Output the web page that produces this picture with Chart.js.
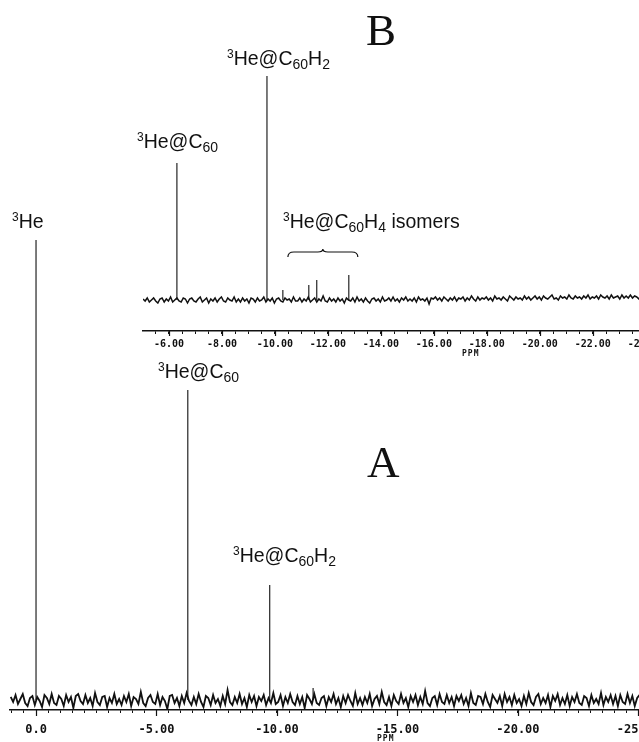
<!DOCTYPE html>
<html>
<head>
<meta charset="utf-8">
<script src="https://cdn.jsdelivr.net/npm/chart.js@4.4.1/dist/chart.umd.min.js"></script>
<style>
  html, body { margin: 0; padding: 0; background: #fff; }
  body { width: 639px; height: 742px; overflow: hidden; position: relative; }
  canvas { position: absolute; left: 0; top: 0; }
  .lbl { position: absolute; font: 19.5px "Liberation Sans", Arial, sans-serif; line-height: 19px;
         white-space: nowrap; color: #111; }
  .lbl sup { font-size: 12px; vertical-align: 7px; line-height: 0; }
  .lbl sub { font-size: 14px; vertical-align: -4px; line-height: 0; }
  .big { position: absolute; font: 45px "Liberation Serif", "Times New Roman", serif; line-height: 45px; color: #111; }
  .ppm { position: absolute; font: bold 8px "DejaVu Sans Mono", monospace; letter-spacing: 1px; color: #111; }
</style>
</head>
<body>
<canvas id="chart-a" width="672" height="742"></canvas>
<canvas id="chart-b" width="664" height="380"></canvas>

<div class="big" style="left:366px; top:8px">B</div>
<div class="lbl" style="left:227px; top:49px"><sup>3</sup>He@C<sub>60</sub>H<sub>2</sub></div>
<div class="lbl" style="left:137px; top:132px"><sup>3</sup>He@C<sub>60</sub></div>
<div class="lbl" style="left:12px; top:212px"><sup>3</sup>He</div>
<div class="lbl" style="left:283px; top:212px"><sup>3</sup>He@C<sub>60</sub>H<sub>4</sub> isomers</div>
<div class="lbl" style="left:158px; top:362px"><sup>3</sup>He@C<sub>60</sub></div>
<div class="big" style="left:367px; top:440px">A</div>
<div class="lbl" style="left:233px; top:546px"><sup>3</sup>He@C<sub>60</sub>H<sub>2</sub></div>
<div class="ppm" style="left:462px; top:349px">PPM</div>
<div class="ppm" style="left:377px; top:734px">PPM</div>

<script>
"use strict";

// ── Spectrum A (full range) ───────────────────────────────────────
const PEAK_PPM_A    = [0.0, -6.3, -9.7, -11.5];
const PEAK_HEIGHT_A = [460, 310, 115, 12];
const TICKS_A       = [0, -5, -10, -15, -20, -25];
const TICK_LABELS_A = ["0.0", "-5.00", "-10.00", "-15.00", "-20.00", "-25.00"];
const NOISE_START_A = 1.05;    // ppm of first baseline sample
const NOISE_STEP_A  = 0.1;
const NOISE_A = [
  3,-2,5,-4,1,6,-3,-6,2,4,-5,3,-1,-7,5,2,-4,6,-3,-5,4,1,-6,
  5,-2,3,-8,4,6,-1,-4,5,-3,2,-6,7,-2,-5,3,4,-7,2,-3,6,-4,1,
  -5,4,-2,6,-6,3,1,-4,8,-3,-6,2,5,-2,-4,6,-5,3,-1,-9,4,5,-3,
  2,-6,4,-3,7,-1,-5,3,-4,6,-2,-7,4,2,-5,5,-3,1,-6,4,-4,10,-2,
  -5,3,-3,6,-4,2,-7,5,-2,4,-6,3,-1,5,-5,2,-3,7,-4,-2,5,-6,3,
  -3,6,-2,-5,4,-4,3,-8,5,1,-4,6,-3,-5,2,4,-6,3,-2,6,-4,2,-7,
  4,-3,5,-1,-6,7,-4,2,-5,3,-3,6,-6,1,4,-4,8,-2,-5,3,-6,5,-1,
  -4,6,-3,2,-7,4,-2,5,-5,3,-4,9,-3,-6,2,4,-5,6,-2,-4,5,-3,3,
  -6,4,-1,5,-4,2,-6,7,-3,-5,4,3,-4,6,-2,-7,5,1,-3,4,-6,6,-2,
  3,-5,5,-3,1,-6,4,-4,7,-2,-5,3,6,-4,2,-3,5,-7,4,-1,6,-5,2,
  -4,5,-6,3,-2,6,-3,-5,4,2,-6,5,-3,1,-4,7,-5,3,-2,5,-4,4,-6,
  5,-2,-4,6,-3,4,-6,2,5,-5,3,-2,6,-4,1,-5,4,-3,6,-6,2,4,-3
];

// ── Spectrum B (inset) ────────────────────────────────────────────
const PEAK_PPM_B    = [-6.3, -9.7, -10.3, -11.28, -11.58, -12.79];
const PEAK_HEIGHT_B = [137, 224, 10, 15, 20, 25];
const TICKS_B       = [-6, -8, -10, -12, -14, -16, -18, -20, -22, -24];
const TICK_LABELS_B = ["-6.00", "-8.00", "-10.00", "-12.00", "-14.00", "-16.00", "-18.00", "-20.00", "-22.00", "-24.00"];
const NOISE_START_B = -5.02;
const NOISE_STEP_B  = 0.08;
const NOISE_B = [
  1,-1,2,-2,0,2,-1,-3,1,2,-2,1,-1,3,-2,0,2,-1,-2,2,1,-3,1,
  2,-1,-2,1,3,-2,0,2,-3,1,-1,2,-2,1,3,-1,-2,2,0,-1,3,-2,1,
  -2,2,-1,1,-3,2,1,-2,2,-1,0,3,-2,1,-1,2,-3,1,2,-1,-2,2,0,
  1,-2,3,-1,-1,2,-2,1,-1,3,-2,0,2,-2,1,-1,4,-1,-2,2,-1,1,-2,
  2,-1,1,-3,2,0,-1,2,-2,3,-1,1,-2,2,-1,-3,1,2,-1,1,-2,3,-1,
  0,2,-1,3,-1,1,-2,2,0,3,-1,1,-1,2,-2,3,0,1,-1,2,-4,2,1,
  3,0,2,-1,3,1,-1,2,0,3,-1,2,1,3,-1,2,0,4,1,-1,3,0,2,
  1,3,0,2,-1,4,1,2,0,3,1,-1,4,2,0,3,1,2,0,4,1,3,0,
  2,4,1,3,0,4,2,1,3,5,1,2,0,4,2,3,1,5,2,1,4,2,3,
  1,4,2,5,1,3,2,4,1,5,3,2,4,1,5,2,3,4,1,5,2,4,2,
  5,2,4,3,1,5,3,2,4,6,2,3,5,2,4,3,5,2,4,1,5,3,4
];

const INK = "#111";

// ── Helpers ───────────────────────────────────────────────────────
const $ = id => document.getElementById(id);

const baseline = (start, step, noise) => noise.map((v, i) => ({ x: start - i * step, y: v }));

// each peak is a vertical stick from the baseline; null breaks the line between sticks
function sticks(peakPpm, peakHeight) {
  const pts = [];
  peakPpm.forEach((p, i) => {
    pts.push({ x: p, y: 0 }, { x: p, y: peakHeight[i] }, { x: p, y: null });
  });
  return pts;
}

function tickLabel(majors, labels) {
  return v => {
    const i = majors.findIndex(m => Math.abs(m - v) < 1e-6);
    return i >= 0 ? labels[i] : "";
  };
}

// longer marks for the labelled ticks
const majorTicks = {
  id: "majorTicks",
  afterDraw(chart, args, opts) {
    const sc = chart.scales.x, ctx = chart.ctx;
    ctx.save();
    ctx.strokeStyle = INK;
    ctx.lineWidth = 1.2;
    opts.values.forEach(v => {
      if (v < sc.min || v > sc.max) return;
      const px = Math.round(sc.getPixelForValue(v)) + 0.5;
      ctx.beginPath();
      ctx.moveTo(px, sc.top);
      ctx.lineTo(px, sc.top + opts.length);
      ctx.stroke();
    });
    ctx.restore();
  }
};

// curly brace over the isomer peaks (inset)
const isomerBrace = {
  id: "isomerBrace",
  afterDraw(chart, args, opts) {
    if (!opts.from) return;
    const { x, y } = chart.scales, ctx = chart.ctx;
    const x1 = x.getPixelForValue(opts.from), x2 = x.getPixelForValue(opts.to);
    const xm = (x1 + x2) / 2;
    const yEnd = y.getPixelForValue(opts.level - 5), yMid = y.getPixelForValue(opts.level), yTip = y.getPixelForValue(opts.level + 3);
    ctx.save();
    ctx.strokeStyle = INK;
    ctx.lineWidth = 1.2;
    ctx.beginPath();
    ctx.moveTo(x1, yEnd);
    ctx.quadraticCurveTo(x1, yMid, x1 + 6, yMid);
    ctx.lineTo(xm - 5, yMid);
    ctx.quadraticCurveTo(xm, yMid, xm, yTip);
    ctx.quadraticCurveTo(xm, yMid, xm + 5, yMid);
    ctx.lineTo(x2 - 6, yMid);
    ctx.quadraticCurveTo(x2, yMid, x2, yEnd);
    ctx.stroke();
    ctx.restore();
  }
};

function makeSpectrum(canvasId, cfg) {
  return new Chart($(canvasId), {
    type: "line",
    data: {
      datasets: [
        { data: cfg.noise, borderColor: INK, borderWidth: cfg.lineWidth, pointRadius: 0, tension: 0, fill: false },
        { data: cfg.peaks, borderColor: INK, borderWidth: 1.1, pointRadius: 0, tension: 0, fill: false, spanGaps: false }
      ]
    },
    options: {
      responsive: false,
      animation: false,
      devicePixelRatio: 1,
      layout: { padding: cfg.padding },
      plugins: {
        legend: { display: false },
        tooltip: { enabled: false },
        majorTicks: { values: cfg.majors, length: cfg.majorLen },
        isomerBrace: cfg.brace || {}
      },
      scales: {
        x: {
          type: "linear",
          reverse: true,
          min: cfg.xmin,
          max: cfg.xmax,
          afterFit: s => { s.height = cfg.axisHeight; },
          border: { display: true, color: INK, width: 1.4 },
          grid: { drawOnChartArea: false, drawTicks: true, tickLength: 3, tickColor: INK, lineWidth: 1 },
          ticks: {
            stepSize: 0.5,
            autoSkip: false,
            includeBounds: false,
            maxRotation: 0,
            padding: cfg.tickPad,
            color: INK,
            font: { family: "'DejaVu Sans Mono', monospace", size: cfg.fontSize, weight: "bold" },
            callback: tickLabel(cfg.majors, cfg.labels)
          }
        },
        y: { display: false, min: cfg.ymin, max: cfg.ymax }
      }
    },
    plugins: [majorTicks, isomerBrace]
  });
}

// ── Boot ──────────────────────────────────────────────────────────
makeSpectrum("chart-a", {
  noise: baseline(NOISE_START_A, NOISE_STEP_A, NOISE_A),
  peaks: sticks(PEAK_PPM_A, PEAK_HEIGHT_A),
  lineWidth: 1.8,
  padding: { left: 10, right: 24, top: 0, bottom: 0 },
  xmin: -25.4, xmax: 1.08,
  ymin: -10, ymax: 700,
  axisHeight: 32,
  majors: TICKS_A, labels: TICK_LABELS_A, majorLen: 6,
  fontSize: 12, tickPad: 10
});

makeSpectrum("chart-b", {
  noise: baseline(NOISE_START_B, NOISE_STEP_B, NOISE_B),
  peaks: sticks(PEAK_PPM_B, PEAK_HEIGHT_B),
  lineWidth: 1.5,
  padding: { left: 143, right: 5, top: 60, bottom: 0 },
  xmin: -24.5, xmax: -5.02,
  ymin: -31, ymax: 240,
  axisHeight: 49,
  majors: TICKS_B, labels: TICK_LABELS_B, majorLen: 5,
  fontSize: 10, tickPad: 4,
  brace: { from: -10.49, to: -13.13, level: 48 }
});
</script>
</body>
</html>
